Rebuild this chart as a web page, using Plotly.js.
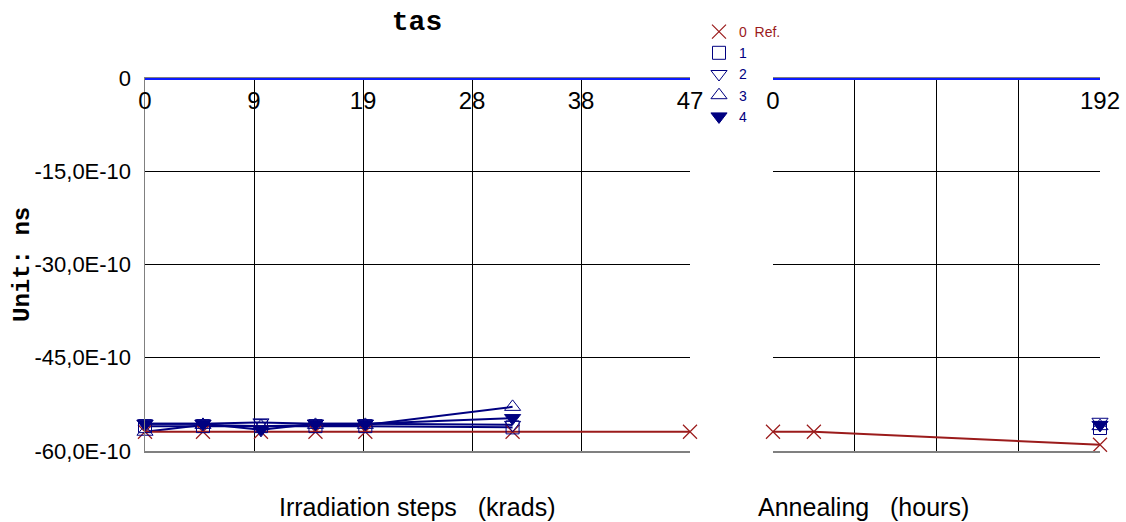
<!DOCTYPE html>
<html><head><meta charset="utf-8">
<script src="https://cdn.plot.ly/plotly-3.0.1.min.js"></script>
<style>html,body{margin:0;padding:0;background:#fff}</style>
</head><body><div id="chart" style="width:1126px;height:522px"></div>
<script>
// ---- data ----
const irrSteps    = [0, 5, 10, 14.7, 19, 31.7, 47];
const refIrr      = [-56.9e-10, -56.9e-10, -56.9e-10, -56.9e-10, -56.9e-10, -56.9e-10, -56.9e-10];
const devIrrSteps = [0, 5, 10, 14.7, 19, 31.7];
const dev1Irr     = [-56.0e-10, -56.0e-10, -56.0e-10, -56.0e-10, -56.0e-10, -56.2e-10];
const dev2Irr     = [-55.6e-10, -55.6e-10, -55.4e-10, -55.6e-10, -55.6e-10, -55.8e-10];
const dev3Irr     = [-56.9e-10, -55.8e-10, -56.0e-10, -55.8e-10, -55.8e-10, -52.9e-10];
const dev4Irr     = [-55.6e-10, -55.6e-10, -56.6e-10, -55.6e-10, -55.6e-10, -54.7e-10];

const annealSteps    = [0, 24, 192];
const refAnneal      = [-56.9e-10, -56.9e-10, -59.0e-10];
const devAnnealSteps = [192];
const dev1Anneal     = [-56.3e-10];
const dev2Anneal     = [-55.3e-10];
const dev3Anneal     = [-56.0e-10];
const dev4Anneal     = [-55.8e-10];

const zeroIrrX    = [0, 47];
const zeroAnnealX = [0, 192];
const zeroY       = [0, 0];

const irrTickVals = [0, 9.4, 18.8, 28.2, 37.6, 47];
const irrTickText = ['0', '9', '19', '28', '38', '47'];
const annTickVals = [0, 48, 96, 144, 192];
const annTickText = ['0', '', '', '', '192'];
const yTickVals   = [-60e-10, -45e-10, -30e-10, -15e-10, 0];
const yTickText   = ['-60,0E-10', '-45,0E-10', '-30,0E-10', '-15,0E-10', '0'];

const seriesNames = ['<span style="color:#9b1b1b">0  Ref.</span>', '1', '2', '3', '4'];

// ---- styles ----
const RED = '#9b1b1b', NAVY = '#000080', BLUE = '#0a1aff';
const devSymbols = ['square-open', 'triangle-down-open', 'triangle-up-open', 'triangle-down'];
const devIrr = [dev1Irr, dev2Irr, dev3Irr, dev4Irr];
const devAnn = [dev1Anneal, dev2Anneal, dev3Anneal, dev4Anneal];

const traces = [];
traces.push({x: zeroIrrX, y: zeroY, xaxis: 'x', yaxis: 'y', mode: 'lines', line: {color: BLUE, width: 4}, showlegend: false, cliponaxis: false, hoverinfo: 'skip'});
traces.push({x: zeroAnnealX, y: zeroY, xaxis: 'x2', yaxis: 'y', mode: 'lines', line: {color: BLUE, width: 4}, showlegend: false, cliponaxis: false, hoverinfo: 'skip'});

devIrr.forEach((ys, i) => {
  traces.push({x: devIrrSteps, y: ys, xaxis: 'x', yaxis: 'y', mode: 'lines', line: {color: NAVY, width: 2}, showlegend: false, cliponaxis: false});
});
traces.push({x: irrSteps, y: refIrr, xaxis: 'x', yaxis: 'y', mode: 'lines', line: {color: RED, width: 2}, showlegend: false, cliponaxis: false});
traces.push({x: annealSteps, y: refAnneal, xaxis: 'x2', yaxis: 'y', mode: 'lines', line: {color: RED, width: 2}, showlegend: false, cliponaxis: false});

traces.push({x: irrSteps, y: refIrr, xaxis: 'x', yaxis: 'y', mode: 'markers', name: seriesNames[0], legendgroup: 's0',
  marker: {symbol: 'x-thin-open', size: 14, color: RED, line: {color: RED, width: 1.2}}, cliponaxis: false});
traces.push({x: annealSteps, y: refAnneal, xaxis: 'x2', yaxis: 'y', mode: 'markers', name: seriesNames[0], legendgroup: 's0', showlegend: false,
  marker: {symbol: 'x-thin-open', size: 14, color: RED, line: {color: RED, width: 1.2}}, cliponaxis: false});

devIrr.forEach((ys, i) => {
  const mk = {symbol: devSymbols[i], size: i === 0 ? 13 : 14, color: NAVY, line: {color: NAVY, width: 1}};
  traces.push({x: devIrrSteps, y: ys, xaxis: 'x', yaxis: 'y', mode: 'markers', name: seriesNames[i + 1], legendgroup: 's' + (i + 1), marker: mk, cliponaxis: false});
  traces.push({x: devAnnealSteps, y: devAnn[i], xaxis: 'x2', yaxis: 'y', mode: 'markers', name: seriesNames[i + 1], legendgroup: 's' + (i + 1), showlegend: false, marker: mk, cliponaxis: false});
});

const W = 1126, H = 522;
const xCommon = {
  side: 'top', ticklabelposition: 'inside', ticklabeloverflow: 'allow', ticklabelstandoff: 16,
  showgrid: true, gridcolor: '#000', gridwidth: 1, showline: true, mirror: true,
  linecolor: '#808080', linewidth: 1.5, ticks: '', zeroline: false,
  tickfont: {family: 'Liberation Sans, Arial', size: 24, color: '#000'}, fixedrange: true
};
const layout = {
  width: W, height: H,
  margin: {l: 0, r: 0, t: 0, b: 0},
  paper_bgcolor: '#fff', plot_bgcolor: 'rgba(0,0,0,0)',
  title: {text: '<b>tas</b>', font: {family: 'Liberation Mono, Courier New', size: 28, color: '#000'},
    x: 417 / W, xanchor: 'center', xref: 'paper', y: 1 - 20 / H, yanchor: 'middle', yref: 'container'},
  xaxis: Object.assign({}, xCommon, {domain: [145 / W, 690 / W], anchor: 'y', range: [0, 47], tickvals: irrTickVals, ticktext: irrTickText}),
  xaxis2: Object.assign({}, xCommon, {domain: [773 / W, 1100 / W], anchor: 'y', range: [0, 192], tickvals: annTickVals, ticktext: annTickText}),
  yaxis: {domain: [1 - 451 / H, 1 - 78 / H], range: [-60e-10, 0], tickvals: yTickVals, ticktext: yTickText,
    showgrid: true, gridcolor: '#000', gridwidth: 1, showline: true, linecolor: '#808080', linewidth: 1.5,
    ticks: '', zeroline: false, ticklabelstandoff: 8,
    tickfont: {family: 'Liberation Sans, Arial', size: 22, color: '#000'}, fixedrange: true},
  legend: {x: 699 / W, y: 1 - 16 / H, xanchor: 'left', yanchor: 'top', bgcolor: 'rgba(0,0,0,0)',
    font: {family: 'Liberation Sans, Arial', size: 14, color: NAVY}, itemwidth: 30, tracegroupgap: 0},
  annotations: [
    {text: 'Irradiation steps   (krads)', x: 417 / W, y: 1 - 507 / H, xref: 'paper', yref: 'paper', xanchor: 'center', yanchor: 'middle', showarrow: false,
      font: {family: 'Liberation Sans, Arial', size: 25, color: '#000'}},
    {text: 'Annealing   (hours)', x: 863 / W, y: 1 - 507 / H, xref: 'paper', yref: 'paper', xanchor: 'center', yanchor: 'middle', showarrow: false,
      font: {family: 'Liberation Sans, Arial', size: 25, color: '#000'}},
    {text: '<b>Unit: ns</b>', x: 22 / W, y: 1 - 265 / H, xref: 'paper', yref: 'paper', xanchor: 'center', yanchor: 'middle', showarrow: false, textangle: -90,
      font: {family: 'Liberation Mono, Courier New', size: 24, color: '#000'}}
  ]
};
Plotly.newPlot('chart', traces, layout, {displayModeBar: false, staticPlot: true});
</script>
</body></html>
